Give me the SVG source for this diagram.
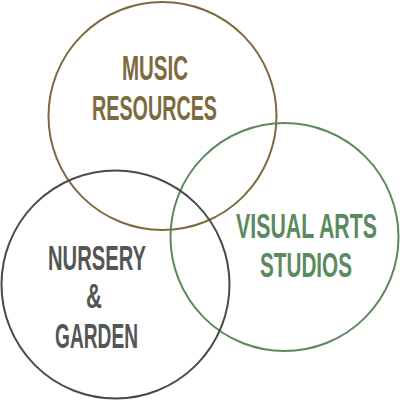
<svg xmlns="http://www.w3.org/2000/svg" width="400" height="400" viewBox="0 0 400 400">
<style>
.c{fill:none;stroke-width:2}
.t{font-family:"Liberation Sans",Arial,sans-serif;font-size:24px;font-weight:bold;text-anchor:middle}
.brown{stroke:#7d6a3e}
.green{stroke:#5b8a5f}
.dark{stroke:#4a4a4a}
.tb{fill:#7d6a3e}
.tg{fill:#5b8a5f}
.td{fill:#555555}
</style>
<rect width="400" height="400" fill="#ffffff"/>
<g id="music">
<circle class="c brown" cx="162.5" cy="116" r="114"/>
<text class="t tb" transform="translate(155,80) scale(1,1.5)" textLength="66" lengthAdjust="spacingAndGlyphs">MUSIC</text>
<text class="t tb" transform="translate(154.5,120) scale(1,1.5)" textLength="125" lengthAdjust="spacingAndGlyphs">RESOURCES</text>
</g>
<g id="visual">
<circle class="c green" cx="284.5" cy="237" r="114"/>
<text class="t tg" transform="translate(306.5,238) scale(1,1.5)" textLength="141" lengthAdjust="spacingAndGlyphs">VISUAL ARTS</text>
<text class="t tg" transform="translate(306,277) scale(1,1.5)" textLength="92" lengthAdjust="spacingAndGlyphs">STUDIOS</text>
</g>
<g id="nursery">
<circle class="c dark" cx="115.5" cy="284.5" r="114"/>
<text class="t td" transform="translate(97,270) scale(1,1.5)" textLength="98" lengthAdjust="spacingAndGlyphs">NURSERY</text>
<text class="t td" transform="translate(94,308) scale(1,1.5)" textLength="16" lengthAdjust="spacingAndGlyphs">&amp;</text>
<text class="t td" transform="translate(96.5,348) scale(1,1.5)" textLength="83" lengthAdjust="spacingAndGlyphs">GARDEN</text>
</g>
<g id="connectors"/>
</svg>
